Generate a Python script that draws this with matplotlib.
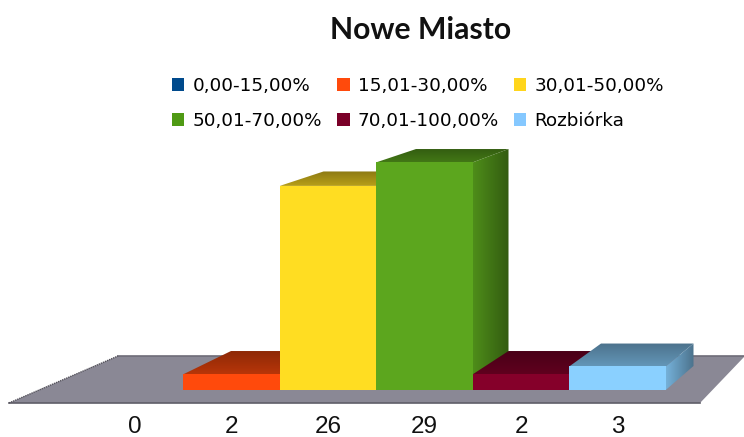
import numpy as np
import matplotlib
matplotlib.use('Agg')
import matplotlib.pyplot as plt
from matplotlib.colors import LinearSegmentedColormap, to_rgb
from matplotlib.patches import Polygon, Patch

categories = ['0,00-15,00%', '15,01-30,00%', '30,01-50,00%', '50,01-70,00%', '70,01-100,00%', 'Rozbiórka']
values = [0, 2, 26, 29, 2, 3]
colors = ['#004A8C', '#FF4A0C', '#FFDD22', '#5CA61E', '#85002A', '#8AD0FF']
legend_colors = ['#004A8C', '#FF4A0C', '#FFD51C', '#4F9A14', '#7A0028', '#85C8FF']
title = 'Nowe Miasto'

W, H = 744, 437
PX_X = 96.5   # pixel na kategorie
PX_Y = 7.85   # pixel na jednostke
X0 = 135
Y0 = 390
Y_BOTTOM = 403


def back(x, y):
    # rzut tylnej sciany slupka (perspektywa)
    return 0.995 + 0.9585 * (x - 0.5), 3.06 + 0.953 * y


def shade(c, f):
    return tuple(min(1, v * f) for v in to_rgb(c))


def grad_face(ax, pts, c1, c2, horizontal, z):
    # wielokat z gradientem
    poly = Polygon(pts, closed=True, transform=ax.transData, facecolor='none', edgecolor='none')
    ax.add_patch(poly)
    cmap = LinearSegmentedColormap.from_list('g', [c1, c2])
    xs = [p[0] for p in pts]
    ys = [p[1] for p in pts]
    g = np.linspace(0, 1, 64)
    g = g.reshape(1, -1) if horizontal else g.reshape(-1, 1)
    im = ax.imshow(g, cmap=cmap, extent=(min(xs), max(xs), min(ys), max(ys)),
                   origin='lower', aspect='auto', zorder=z, interpolation='bilinear')
    im.set_clip_path(poly)


fig = plt.figure(figsize=(W / 100, H / 100), dpi=100)
ax = fig.add_axes([0, (H - Y_BOTTOM) / H, 1, Y_BOTTOM / H])
xlim = (-X0 / PX_X, (W - X0) / PX_X)
ylim = ((Y0 - Y_BOTTOM) / PX_Y, Y0 / PX_Y)

# podloga
floor_top = (Y0 - 356) / PX_Y
floor = [(-1.306, ylim[0]), (-0.176, floor_top), (xlim[1] + 0.01, floor_top), (5.855, ylim[0])]
ax.add_patch(Polygon(floor, closed=True, facecolor='#8A8895', edgecolor='none', zorder=1, clip_on=False))
ax.plot([floor[1][0], floor[2][0]], [floor_top, floor_top], color='#6E6C78', lw=1.2, zorder=1.5)
ax.plot([floor[0][0], floor[3][0]], [ylim[0], ylim[0]], color='#5F5D68', lw=1.2, zorder=1.5, clip_on=False)
ax.plot([floor[0][0], floor[1][0]], [ylim[0], floor_top], color='#55535C', lw=1, ls=(0, (1, 0.6)), zorder=1.5, clip_on=False)

z = 2
for i, (v, c) in enumerate(zip(values, colors)):
    if v == 0:
        continue
    l, r = i - 0.5, i + 0.5
    bl_b = back(l, v)
    br_b = back(r, v)
    br_0 = back(r, 0)
    # bok
    grad_face(ax, [(r, 0), (r, v), br_b, br_0], shade(c, 0.85), shade(c, 0.55), True, z)
    # gora
    grad_face(ax, [(l, v), (r, v), br_b, bl_b], shade(c, 0.72), shade(c, 0.55), False, z + 0.1)
    # przod
    ax.bar(i, v, width=1, color=c, zorder=z + 0.2)
    z += 1

ax.set_xlim(xlim)
ax.set_ylim(ylim)
ax.set_yticks([])
ax.set_xticks(range(len(values)))
ax.set_xticklabels([str(v) for v in values], fontsize=17.5, family='Liberation Sans', color='#111111')
ax.tick_params(axis='x', length=0, pad=9.5)
for s in ax.spines.values():
    s.set_visible(False)
ax.patch.set_alpha(0)

fig.text(420.5 / W, 1 - 30 / H, title, ha='center', va='center', fontsize=21.7,
         fontweight='bold', family='Lato', color='#111111')

# legenda wypelniana wierszami, matplotlib wypelnia kolumnami
order = [0, 3, 1, 4, 2, 5]
handles = [Patch(facecolor=legend_colors[k], edgecolor='none') for k in order]
labels = [categories[k] for k in order]
fig.legend(handles=handles, labels=labels, ncol=3, frameon=False,
           loc='upper left', bbox_to_anchor=(172 / W, 1 - 77 / H), borderaxespad=0, borderpad=0,
           handlelength=0.68, handleheight=0.68, handletextpad=0.44, columnspacing=0.82,
           labelspacing=0.92, prop={'family': 'DejaVu Sans', 'size': 13.2})

fig.savefig('out.png', dpi=100)
